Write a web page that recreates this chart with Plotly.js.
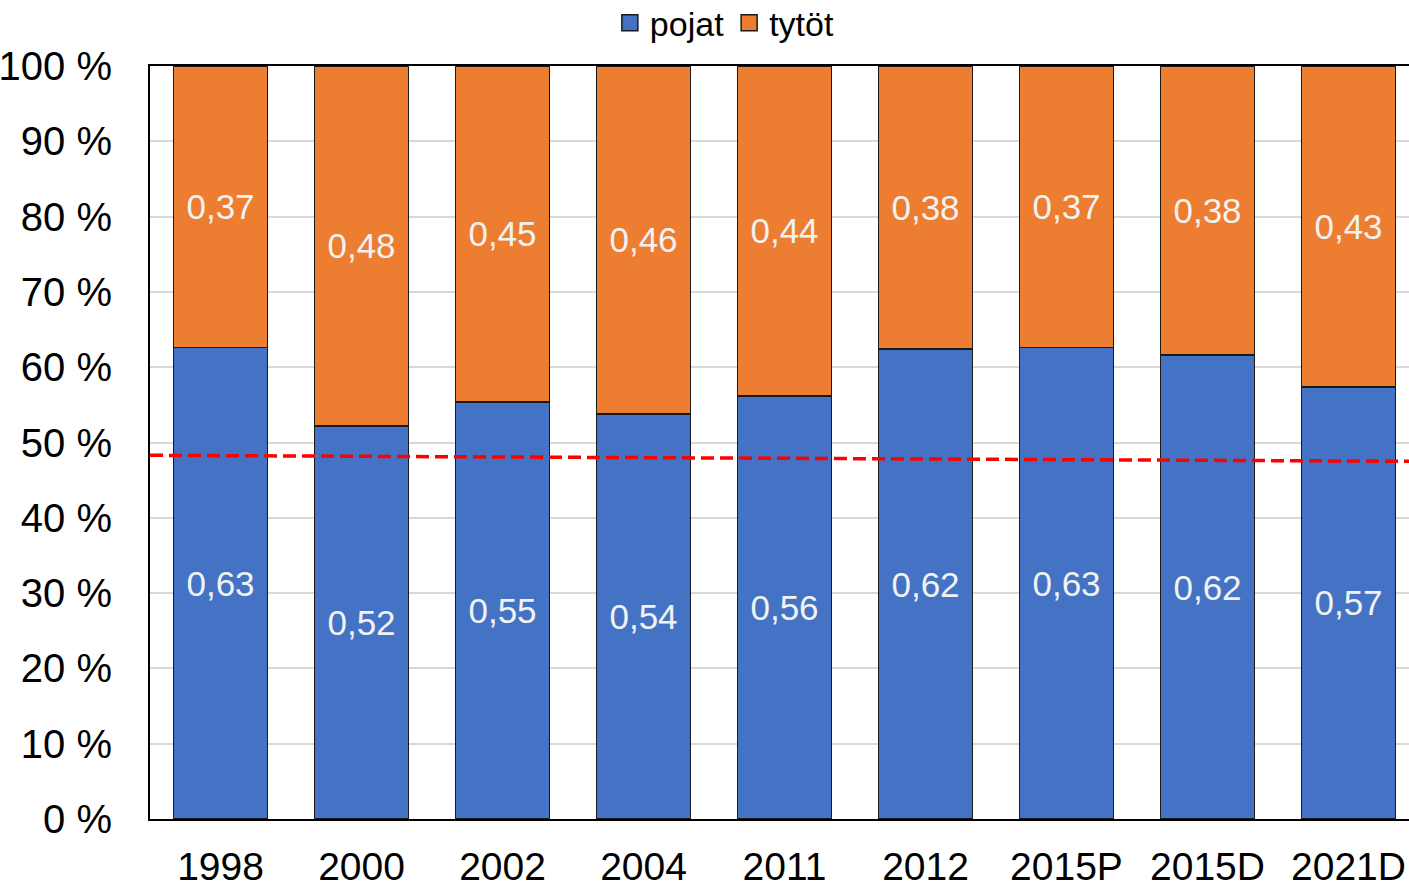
<!DOCTYPE html>
<html>
<head>
<meta charset="utf-8">
<script src="https://cdn.plot.ly/plotly-3.0.1.min.js"></script>
<style>
html,body{margin:0;padding:0;overflow:hidden;background:#fff;}
#chart{width:1420px;height:888px;}
</style>
</head>
<body>
<div id="chart"></div>
<script>
const categories = ['1998','2000','2002','2004','2011','2012','2015P','2015D','2021D'];
const pojat = [0.626, 0.522, 0.554, 0.538, 0.562, 0.624, 0.626, 0.616, 0.574];
const tytot = [0.374, 0.478, 0.446, 0.462, 0.438, 0.376, 0.374, 0.384, 0.426];
const refLineX = [0, 1];
const refLineY = [0.483, 0.475];
const yTickVals = [0, 0.1, 0.2, 0.3, 0.4, 0.5, 0.6, 0.7, 0.8, 0.9, 1.0];
const yTickText = ['0 %','10 %','20 %','30 %','40 %','50 %','60 %','70 %','80 %','90 %','100 %'];

const FONT = '"Liberation Sans", Arial, sans-serif';
const BLUE = '#4472C4';
const ORANGE = '#ED7D31';

const traces = [
  {
    type: 'bar', name: 'pojat', x: categories, y: pojat,
    marker: {color: BLUE, line: {color: '#1a1a1a', width: 1.5}},
    texttemplate: '%{y:.2f}', textposition: 'inside', insidetextanchor: 'middle',
    textfont: {family: FONT, size: 35, color: '#f2f2f2'},
    showlegend: false, hoverinfo: 'skip'
  },
  {
    type: 'bar', name: 'tytöt', x: categories, y: tytot,
    marker: {color: ORANGE, line: {color: '#1a1a1a', width: 1.5}},
    texttemplate: '%{y:.2f}', textposition: 'inside', insidetextanchor: 'middle',
    textfont: {family: FONT, size: 35, color: '#f2f2f2'},
    showlegend: false, hoverinfo: 'skip'
  },
  {
    type: 'scatter', mode: 'lines', x: refLineX, y: refLineY, xaxis: 'x2',
    line: {color: '#FF0000', width: 3.5, dash: '13px,6px'},
    showlegend: false, hoverinfo: 'skip'
  },
  {
    type: 'scatter', mode: 'markers', name: 'pojat', x: [null], y: [null],
    marker: {symbol: 'square', size: 20, color: BLUE, line: {color: '#1a1a1a', width: 1.5}},
    showlegend: true, hoverinfo: 'skip'
  },
  {
    type: 'scatter', mode: 'markers', name: 'tytöt', x: [null], y: [null],
    marker: {symbol: 'square', size: 20, color: ORANGE, line: {color: '#1a1a1a', width: 1.5}},
    showlegend: true, hoverinfo: 'skip'
  }
];

const layout = {
  width: 1420, height: 888,
  margin: {l: 150, r: 1, t: 66, b: 69, autoexpand: false},
  paper_bgcolor: '#ffffff', plot_bgcolor: '#ffffff',
  barmode: 'stack', bargap: 0.333,
  separators: ', ',
  font: {family: FONT, color: '#000000'},
  xaxis: {
    type: 'category', range: [-0.5, 8.5], tickangle: 0,
    showline: true, linecolor: '#000000', linewidth: 2, mirror: true,
    ticks: '', showgrid: false,
    tickfont: {family: FONT, size: 39, color: '#000000'},
    ticklabelstandoff: 12
  },
  xaxis2: {overlaying: 'x', range: [0, 1], visible: false, fixedrange: true},
  yaxis: {
    range: [0, 1], tickvals: yTickVals, ticktext: yTickText,
    showline: true, linecolor: '#000000', linewidth: 2,
    showgrid: true, gridcolor: '#d9d9d9', gridwidth: 2,
    zeroline: false, ticks: '',
    tickfont: {family: FONT, size: 40, color: '#000000'},
    ticklabelstandoff: 28
  },
  legend: {
    orientation: 'h', traceorder: 'normal',
    x: 0.453, xanchor: 'center', yref: 'container', y: 0.974, yanchor: 'middle',
    font: {family: FONT, size: 34, color: '#000000'},
    itemwidth: 30, tracegroupgap: 0, bgcolor: 'rgba(0,0,0,0)'
  }
};

Plotly.newPlot('chart', traces, layout, {displayModeBar: false, staticPlot: true});
</script>
</body>
</html>
